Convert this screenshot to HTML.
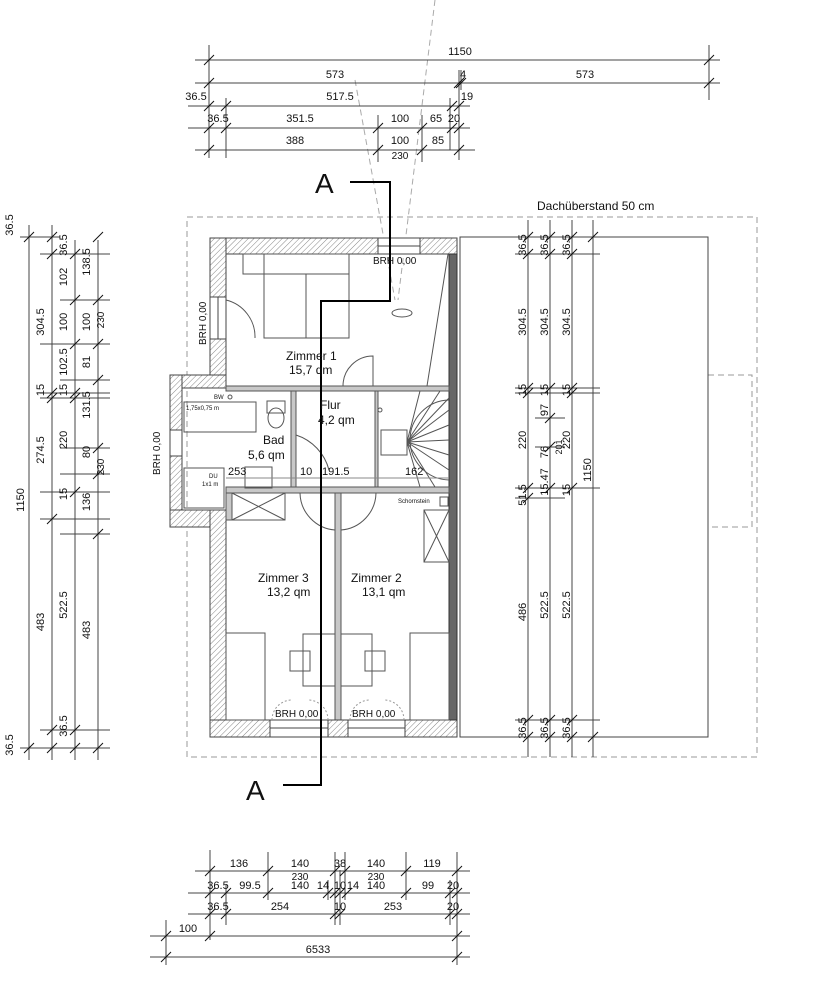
<!DOCTYPE html>
<html><head><meta charset="utf-8"><style>
html,body{margin:0;padding:0;background:#fff}
svg{display:block}
text{font-family:"Liberation Sans",sans-serif;fill:#111}
</style></head><body>
<svg width="837" height="1000" viewBox="0 0 837 1000" xmlns="http://www.w3.org/2000/svg">
<defs>
<pattern id="h" width="4" height="4" patternUnits="userSpaceOnUse" patternTransform="rotate(45)">
<rect width="4" height="4" fill="#fff"/><line x1="0" y1="0" x2="0" y2="4" stroke="#888" stroke-width="1"/></pattern>
<path id="t" d="M-5,5 L5,-5" stroke="#111" stroke-width="1"/>
</defs>
<g stroke="#555" stroke-width="1" fill="none">
<!-- dashed roof overhang -->
<rect x="187" y="217" width="570" height="540" stroke="#999" stroke-dasharray="6,4"/>
<path d="M708,375 H752 V527 H708" stroke="#999" stroke-dasharray="6,4"/>
<rect x="460" y="237" width="248" height="500" stroke="#444"/>
<!-- view cone dashes -->
<path d="M435,0 L398,300 M355,80 L395,300" stroke="#aaa" stroke-dasharray="6,4"/>
</g>
<!-- walls -->
<g fill="url(#h)" stroke="#444" stroke-width="1">
<rect x="210" y="238" width="247" height="16"/>
<rect x="210" y="238" width="16" height="150"/>
<rect x="170" y="375" width="56" height="13"/>
<rect x="170" y="375" width="12" height="152"/>
<rect x="170" y="510" width="56" height="17"/>
<rect x="210" y="510" width="16" height="227"/>
<rect x="210" y="720" width="247" height="17"/>
</g>
<rect x="449" y="254" width="8" height="466" fill="#666" stroke="#333"/>
<g fill="#c8c8c8" stroke="#555">
<rect x="226" y="386" width="223" height="5"/>
<rect x="291" y="391" width="5" height="96"/>
<rect x="226" y="487" width="223" height="6"/>
<rect x="226" y="493" width="6" height="27"/>
<rect x="335" y="493" width="6" height="227"/>
<rect x="375" y="391" width="3" height="96"/>
</g>
<!-- windows -->
<g fill="#fff" stroke="#444">
<rect x="378" y="238" width="42" height="16"/><line x1="378" y1="246" x2="420" y2="246"/>
<rect x="270" y="720" width="58" height="17"/><line x1="270" y1="728" x2="328" y2="728"/>
<rect x="348" y="720" width="57" height="17"/><line x1="348" y1="728" x2="405" y2="728"/>
<rect x="210" y="297" width="16" height="42"/><line x1="218" y1="297" x2="218" y2="339"/>
<rect x="170" y="430" width="12" height="26"/>
<rect x="328" y="720" width="20" height="17" fill="url(#h)"/>
</g>
<!-- furniture -->
<g fill="none" stroke="#555" stroke-width="1">
<rect x="243" y="254" width="106" height="20"/>
<rect x="264" y="254" width="85" height="84"/>
<line x1="306" y1="274" x2="306" y2="338"/>
<line x1="448" y1="254" x2="427" y2="386"/>
<ellipse cx="402" cy="313" rx="10" ry="4"/>
<path d="M226,300 A38,38 0 0 1 255,338"/>
<path d="M343,386 A30,30 0 0 1 373,356 V386"/>
<rect x="184" y="402" width="72" height="30"/>
<circle cx="230" cy="397" r="2"/>
<rect x="267" y="401" width="18" height="12"/><ellipse cx="276" cy="418" rx="8" ry="10"/>
<rect x="184" y="468" width="40" height="40"/>
<rect x="245" y="467" width="27" height="21"/>
<path d="M296,435 A50,50 0 0 1 329,470"/>
<path d="M300,493 A38,38 0 0 0 335,530 V493"/>
<path d="M341,530 A38,38 0 0 0 376,493"/>
<!-- stairs -->
<path d="M449,400 A40,40 0 0 0 410,440 A40,40 0 0 0 449,480"/>
<rect x="381" y="430" width="26" height="25"/>
<path d="M407,442 L449,398 M407,442 L449,410 M407,442 L449,425 M407,442 L449,440 M407,442 L449,455 M407,442 L449,470 M407,442 L435,487 M407,442 L420,487 M407,442 L440,391 M407,442 L420,391"/>
<circle cx="380" cy="410" r="2"/>
<rect x="440" y="497" width="8" height="9"/>
<rect x="424" y="510" width="25" height="52"/><path d="M424,510 L449,562 M449,510 L424,562"/>
<rect x="232" y="493" width="53" height="27"/><path d="M232,493 L285,520 M285,493 L232,520"/>
<rect x="226" y="633" width="39" height="87"/>
<rect x="303" y="634" width="32" height="52"/><rect x="290" y="651" width="20" height="20"/>
<rect x="341" y="634" width="31" height="52"/><rect x="365" y="651" width="20" height="20"/>
<rect x="410" y="633" width="39" height="87"/>
<path d="M272,720 A20,20 0 0 1 292,700 M328,720 A20,20 0 0 0 308,700 M350,720 A20,20 0 0 1 370,700 M404,720 A20,20 0 0 0 384,700" stroke="#999" stroke-dasharray="2,2"/>
<line x1="226" y1="478" x2="449" y2="478" stroke="#888"/>
</g>
<!-- section line -->
<path d="M350,182 H390 V301 H321 V785 H283" fill="none" stroke="#000" stroke-width="2"/>
<text x="315" y="193" font-size="28">A</text>
<text x="246" y="800" font-size="28">A</text>
<!-- room labels -->
<g font-size="12">
<text x="286" y="360">Zimmer 1</text><text x="289" y="374">15,7 qm</text>
<text x="320" y="409">Flur</text><text x="318" y="424">4,2 qm</text>
<text x="263" y="444">Bad</text><text x="248" y="459">5,6 qm</text>
<text x="258" y="582">Zimmer 3</text><text x="267" y="596">13,2 qm</text>
<text x="351" y="582">Zimmer  2</text><text x="362" y="596">13,1 qm</text>
<text x="537" y="210">Dachüberstand 50 cm</text>
</g>
<g font-size="10">
<text x="373" y="264">BRH  0,00</text>
<text x="275" y="717">BRH  0,00</text>
<text x="352" y="717">BRH  0,00</text>
<text transform="translate(206,345) rotate(-90)">BRH  0,00</text>
<text transform="translate(160,475) rotate(-90)">BRH  0,00</text>
<text x="228" y="475" font-size="11">253</text><text x="300" y="475" font-size="11">10</text>
<text x="322" y="475" font-size="11">191.5</text><text x="405" y="475" font-size="11">162</text>
<text x="398" y="503" font-size="6">Schornstein</text>
<text x="214" y="399" font-size="6">BW</text><text x="186" y="410" font-size="6">1,75x0,75 m</text>
<text x="209" y="478" font-size="6">DU</text><text x="202" y="486" font-size="6">1x1 m</text>
</g>
<!-- dimension lines -->
<g stroke="#444" stroke-width="1" fill="none">
<path d="M195,60H720 M195,83H720 M188,106H470 M188,128H470 M195,150H475"/>
<path d="M209,45V158 M226,98V158 M378,115V162 M422,115V162 M450,98V150 M459,70V160 M461,70V90 M709,45V100"/>
<path d="M29,225V760 M52,225V760 M75,240V760 M98,240V760"/>
<path d="M20,237H60 M40,254H110 M60,300H110 M40,344H110 M60,380H110 M40,393H110 M40,398H110 M60,448H110 M60,474H110 M40,492H110 M40,519H110 M60,534H110 M40,730H110 M20,748H110"/>
<path d="M528,220V757 M550,220V757 M572,220V757 M593,220V757"/>
<path d="M515,254H600 M515,388H600 M515,393H600 M535,418H565 M535,447H565 M515,488H600 M515,498H565 M515,720H600 M580,237H610 M580,737H610"/>
<path d="M195,871H470 M188,893H470 M188,914H470 M150,936H470 M150,957H470"/>
<path d="M210,850V940 M226,885V925 M268,852V900 M335,852V925 M340,870V925 M345,852V900 M328,880V900 M406,852V900 M450,880V925 M457,852V965 M166,920V965"/>
</g>
<g>
<use href="#t" x="209" y="60"/><use href="#t" x="709" y="60"/>
<use href="#t" x="209" y="83"/><use href="#t" x="459" y="83"/><use href="#t" x="461" y="83"/><use href="#t" x="709" y="83"/>
<use href="#t" x="209" y="106"/><use href="#t" x="226" y="106"/><use href="#t" x="452" y="106"/><use href="#t" x="459" y="106"/>
<use href="#t" x="209" y="128"/><use href="#t" x="226" y="128"/><use href="#t" x="378" y="128"/><use href="#t" x="422" y="128"/><use href="#t" x="452" y="128"/><use href="#t" x="459" y="128"/>
<use href="#t" x="209" y="150"/><use href="#t" x="378" y="150"/><use href="#t" x="422" y="150"/><use href="#t" x="459" y="150"/>
<use href="#t" x="29" y="237"/><use href="#t" x="29" y="748"/>
<use href="#t" x="52" y="237"/><use href="#t" x="52" y="254"/><use href="#t" x="52" y="393"/><use href="#t" x="52" y="398"/><use href="#t" x="52" y="519"/><use href="#t" x="52" y="730"/><use href="#t" x="52" y="748"/>
<use href="#t" x="75" y="254"/><use href="#t" x="75" y="300"/><use href="#t" x="75" y="344"/><use href="#t" x="75" y="393"/><use href="#t" x="75" y="398"/><use href="#t" x="75" y="492"/><use href="#t" x="75" y="730"/><use href="#t" x="75" y="748"/>
<use href="#t" x="98" y="237"/><use href="#t" x="98" y="300"/><use href="#t" x="98" y="344"/><use href="#t" x="98" y="380"/><use href="#t" x="98" y="448"/><use href="#t" x="98" y="474"/><use href="#t" x="98" y="534"/><use href="#t" x="98" y="748"/>
<use href="#t" x="528" y="237"/><use href="#t" x="528" y="254"/><use href="#t" x="528" y="388"/><use href="#t" x="528" y="393"/><use href="#t" x="528" y="488"/><use href="#t" x="528" y="498"/><use href="#t" x="528" y="720"/><use href="#t" x="528" y="737"/>
<use href="#t" x="550" y="237"/><use href="#t" x="550" y="254"/><use href="#t" x="550" y="388"/><use href="#t" x="550" y="418"/><use href="#t" x="550" y="447"/><use href="#t" x="550" y="488"/><use href="#t" x="550" y="720"/><use href="#t" x="550" y="737"/>
<use href="#t" x="572" y="237"/><use href="#t" x="572" y="254"/><use href="#t" x="572" y="388"/><use href="#t" x="572" y="393"/><use href="#t" x="572" y="488"/><use href="#t" x="572" y="720"/><use href="#t" x="572" y="737"/>
<use href="#t" x="593" y="237"/><use href="#t" x="593" y="737"/>
<use href="#t" x="210" y="871"/><use href="#t" x="268" y="871"/><use href="#t" x="335" y="871"/><use href="#t" x="345" y="871"/><use href="#t" x="406" y="871"/><use href="#t" x="457" y="871"/>
<use href="#t" x="210" y="893"/><use href="#t" x="226" y="893"/><use href="#t" x="268" y="893"/><use href="#t" x="328" y="893"/><use href="#t" x="335" y="893"/><use href="#t" x="340" y="893"/><use href="#t" x="347" y="893"/><use href="#t" x="406" y="893"/><use href="#t" x="450" y="893"/><use href="#t" x="457" y="893"/>
<use href="#t" x="210" y="914"/><use href="#t" x="226" y="914"/><use href="#t" x="335" y="914"/><use href="#t" x="340" y="914"/><use href="#t" x="450" y="914"/><use href="#t" x="457" y="914"/>
<use href="#t" x="166" y="936"/><use href="#t" x="210" y="936"/><use href="#t" x="457" y="936"/>
<use href="#t" x="166" y="957"/><use href="#t" x="457" y="957"/>
</g>
<!-- dimension texts -->
<g font-size="11" text-anchor="middle">
<text x="460" y="55">1150</text>
<text x="335" y="78">573</text><text x="463" y="78">4</text><text x="585" y="78">573</text>
<text x="196" y="100">36.5</text><text x="340" y="100">517.5</text><text x="467" y="100">19</text>
<text x="218" y="122">36.5</text><text x="300" y="122">351.5</text><text x="400" y="122">100</text><text x="436" y="122">65</text><text x="454" y="122">20</text>
<text x="295" y="144">388</text><text x="400" y="144">100</text><text x="438" y="144">85</text>
<text x="400" y="159" fill="#777" font-size="10">230</text>
<text x="239" y="867">136</text><text x="300" y="867">140</text><text x="340" y="867">38</text><text x="376" y="867">140</text><text x="432" y="867">119</text>
<text x="300" y="880" fill="#777" font-size="10">230</text><text x="376" y="880" fill="#777" font-size="10">230</text>
<text x="218" y="889">36.5</text><text x="250" y="889">99.5</text><text x="300" y="889">140</text><text x="323" y="889">14</text><text x="340" y="889">10</text><text x="353" y="889">14</text><text x="376" y="889">140</text><text x="428" y="889">99</text><text x="453" y="889">20</text>
<text x="218" y="910">36.5</text><text x="280" y="910">254</text><text x="340" y="910">10</text><text x="393" y="910">253</text><text x="453" y="910">20</text>
<text x="188" y="932">100</text>
<text x="318" y="953">6533</text>
</g>
<g font-size="11" text-anchor="middle">
<text transform="translate(13,225) rotate(-90)">36.5</text>
<text transform="translate(13,745) rotate(-90)">36.5</text>
<text transform="translate(24,500) rotate(-90)">1150</text>
<text transform="translate(44,322) rotate(-90)">304.5</text>
<text transform="translate(44,390) rotate(-90)">15</text>
<text transform="translate(44,450) rotate(-90)">274.5</text>
<text transform="translate(44,622) rotate(-90)">483</text>
<text transform="translate(67,245) rotate(-90)">36.5</text>
<text transform="translate(67,277) rotate(-90)">102</text>
<text transform="translate(67,322) rotate(-90)">100</text>
<text transform="translate(67,362) rotate(-90)">102.5</text>
<text transform="translate(67,390) rotate(-90)">15</text>
<text transform="translate(67,440) rotate(-90)">220</text>
<text transform="translate(67,494) rotate(-90)">15</text>
<text transform="translate(67,605) rotate(-90)">522.5</text>
<text transform="translate(67,726) rotate(-90)">36.5</text>
<text transform="translate(90,262) rotate(-90)">138.5</text>
<text transform="translate(90,322) rotate(-90)">100</text>
<text transform="translate(90,362) rotate(-90)">81</text>
<text transform="translate(90,405) rotate(-90)">131.5</text>
<text transform="translate(90,452) rotate(-90)">80</text>
<text transform="translate(90,502) rotate(-90)">136</text>
<text transform="translate(90,630) rotate(-90)">483</text>
<text transform="translate(104,320) rotate(-90)" fill="#777" font-size="10">230</text>
<text transform="translate(104,467) rotate(-90)" fill="#777" font-size="10">230</text>
<text transform="translate(526,245) rotate(-90)">36.5</text>
<text transform="translate(526,322) rotate(-90)">304.5</text>
<text transform="translate(526,390) rotate(-90)">15</text>
<text transform="translate(526,440) rotate(-90)">220</text>
<text transform="translate(526,495) rotate(-90)">51.5</text>
<text transform="translate(526,612) rotate(-90)">486</text>
<text transform="translate(526,728) rotate(-90)">36.5</text>
<text transform="translate(548,245) rotate(-90)">36.5</text>
<text transform="translate(548,322) rotate(-90)">304.5</text>
<text transform="translate(548,390) rotate(-90)">15</text>
<text transform="translate(548,410) rotate(-90)">97</text>
<text transform="translate(548,452) rotate(-90)">76</text>
<text transform="translate(548,482) rotate(-90)">15.47</text>
<text transform="translate(548,605) rotate(-90)">522.5</text>
<text transform="translate(548,728) rotate(-90)">36.5</text>
<text transform="translate(570,245) rotate(-90)">36.5</text>
<text transform="translate(570,322) rotate(-90)">304.5</text>
<text transform="translate(570,390) rotate(-90)">15</text>
<text transform="translate(570,440) rotate(-90)">220</text>
<text transform="translate(570,490) rotate(-90)">15</text>
<text transform="translate(570,605) rotate(-90)">522.5</text>
<text transform="translate(570,728) rotate(-90)">36.5</text>
<text transform="translate(562,447) rotate(-90)" fill="#777" font-size="9">201</text>
<text transform="translate(591,470) rotate(-90)">1150</text>
</g>
</svg>
</body></html>
